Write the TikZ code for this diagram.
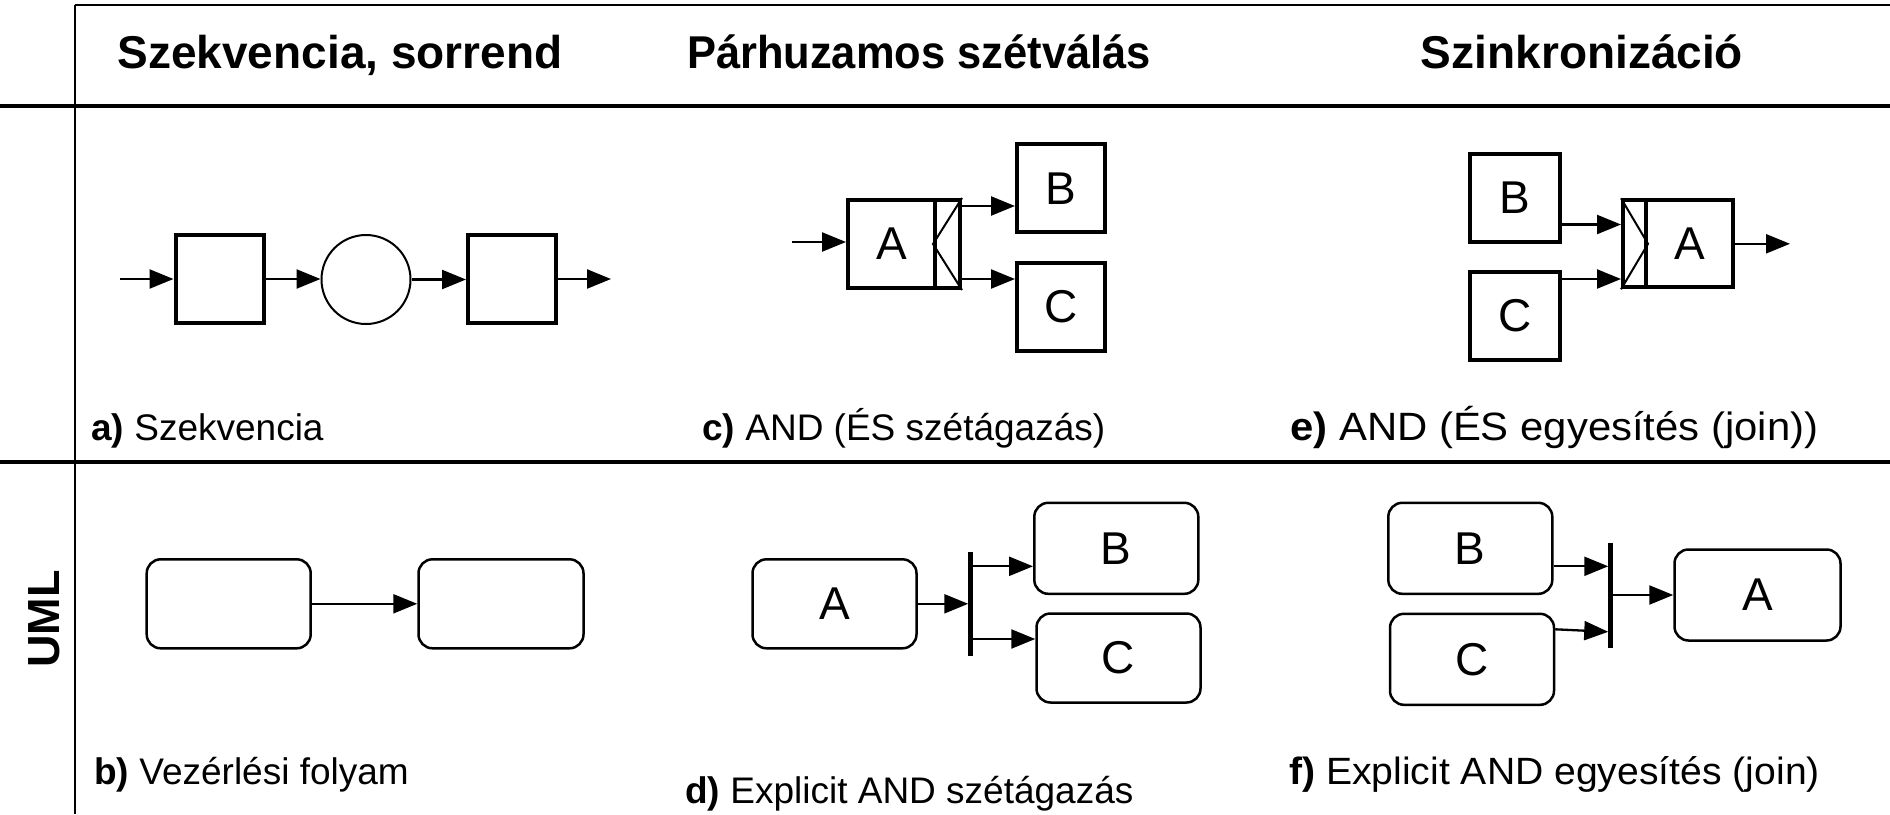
\documentclass[tikz,border=0pt]{standalone}
\usepackage{fontspec}
\setmainfont{Liberation Sans}
\usetikzlibrary{arrows.meta}

\tikzset{
  hdr/.style={font=\fontsize{46}{55}\bfseries\selectfont, anchor=base, inner sep=0},
  lbl/.style={font=\fontsize{37}{44}\selectfont, anchor=base west, inner sep=0},
  sbox/.style={draw, line width=4pt, inner sep=0, minimum width=88pt, minimum height=88pt,
               font=\fontsize{46}{55}\selectfont},
  splitbox/.style={draw, line width=4pt, inner sep=0, minimum height=88pt},
  ubox/.style={draw, line width=2.5pt, rounded corners=14pt, inner sep=0,
               minimum width=164pt, minimum height=89pt, font=\fontsize{46}{55}\selectfont},
  syncbar/.style={fill=black, inner sep=0, minimum width=4.5pt},
  arr/.style={line width=2.3pt, -{Triangle[length=24pt,width=19pt]}},
  frame/.style={line width=#1},
}

\begin{document}
\begin{tikzpicture}[x=1pt, y=-1pt]
\useasboundingbox (0,0) rectangle (1890,814);

% table grid
\draw[frame=2.5pt] (74.5,5) -- (1890,5);
\draw[frame=2pt] (74.5,5) -- (74.5,814);
\draw[frame=3.5pt] (0,106) -- (1890,106);
\draw[frame=4pt] (0,462) -- (1890,462);

% column headers
\node[hdr] (h1) at (340,68) {Szekvencia, sorrend};
\node[hdr, xscale=0.945] (h2) at (919,68) {Párhuzamos szétválás};
\node[hdr] (h3) at (1582,68) {Szinkronizáció};

% row header
\node[font=\fontsize{45}{54}\bfseries\selectfont, rotate=90, inner sep=0] (uml) at (44,619) {UML};

% a) sequence
\coordinate (seqin) at (120,279);
\node[sbox] (s1) at (219.5,279) {};
\node[draw, circle, line width=2pt, minimum size=89pt, inner sep=0] (c1) at (366,279.5) {};
\node[sbox] (s2) at (512,279) {};
\coordinate (seqout) at (611,279);
\draw[arr] (seqin) -- (s1.west);
\draw[arr] (s1.east) -- (s1.east -| c1.west);
\draw[arr] (c1.east) -- (c1.east -| s2.west);
\draw[arr] (s2.east) -- (seqout);

% c) AND split
\coordinate (andin) at (792,242);
\node[sbox, minimum width=87pt] (a2) at (891.5,244) {A};
\node[splitbox, minimum width=25pt] (sp2) at (947.5,244) {};
\draw[line width=2pt] (sp2.north east) -- (sp2.west) -- (sp2.south east);
\node[sbox] (b2) at (1061,188.3) {B};
\node[sbox] (c2) at (1061,306.5) {C};
\draw[arr] (andin) -- (andin -| a2.west);
\draw[arr] ([yshift=38pt]sp2.east) coordinate (o1) -- (o1 -| b2.west);
\draw[arr] ([yshift=-35pt]sp2.east) coordinate (o2) -- (o2 -| c2.west);

% e) AND join
\node[sbox, minimum width=90pt] (b3) at (1515,197.5) {B};
\node[sbox, minimum width=90pt] (c3) at (1515,316) {C};
\node[splitbox, minimum width=23pt, minimum height=87pt] (sp3) at (1634.5,243.8) {};
\node[sbox, minimum width=87pt, minimum height=87pt] (a3) at (1689.5,243.8) {A};
\draw[line width=2pt] (sp3.north west) -- (sp3.east) -- (sp3.south west);
\coordinate (joinout) at (1790,243.8);
\draw[arr] ([yshift=-27pt]b3.east) coordinate (i1) -- (i1 -| sp3.west);
\draw[arr] ([yshift=37pt]c3.east) coordinate (i2) -- (i2 -| sp3.west);
\draw[arr] (a3.east) -- (joinout);

% b) control flow
\node[ubox] (u1) at (228.7,603.8) {};
\node[ubox, minimum width=165pt] (u2) at (501,603.8) {};
\draw[arr] (u1.east) -- (u2.west);

% d) explicit AND split
\node[ubox] (ua) at (834.5,603.8) {A};
\node[syncbar, minimum height=104pt] (bar1) at (970.7,603.8) {};
\node[ubox, minimum height=91pt] (ub) at (1116.3,548.3) {B};
\node[ubox] (uc) at (1118.5,658) {C};
\draw[arr] (ua.east) -- (ua.east -| bar1.west);
\path ([yshift=-18pt]ub.west) coordinate (ubin);
\path ([yshift=19pt]uc.west) coordinate (ucin);
\draw[arr] (ubin -| bar1.east) -- (ubin);
\draw[arr] (ucin -| bar1.east) -- (ucin);

% f) explicit AND join
\node[ubox, minimum height=91pt] (vb) at (1470.3,548.3) {B};
\node[ubox, minimum height=91pt] (vc) at (1472,659.3) {C};
\node[syncbar, minimum height=105pt] (bar2) at (1610.7,595.8) {};
\node[ubox, minimum width=166pt, minimum height=91pt] (va) at (1757.5,595) {A};
\draw[arr] ([yshift=-18pt]vb.east) coordinate (j1) -- (j1 -| bar2.west);
\draw[arr] ([yshift=30pt]vc.east) -- ([yshift=-36pt]bar2.west);
\draw[arr] (bar2.east |- va.west) -- (va.west);

% captions
\node[lbl] (la) at (91,440) {\textbf{a)} Szekvencia};
\node[lbl] (lc) at (702,440) {\textbf{c)} AND (ÉS szétágazás)};
\node[lbl, font=\fontsize{39.5}{47}\selectfont, xscale=1.06] (le) at (1290,440) {\textbf{e)} AND (ÉS egyesítés (join))};
\node[lbl] (lb) at (94,784) {\textbf{b)} Vezérlési folyam};
\node[lbl] (ld) at (685,803) {\textbf{d)} Explicit AND szétágazás};
\node[lbl, font=\fontsize{38}{46}\selectfont, xscale=1.03] (lf) at (1289,784) {\textbf{f)} Explicit AND egyesítés (join)};
\end{tikzpicture}
\end{document}
